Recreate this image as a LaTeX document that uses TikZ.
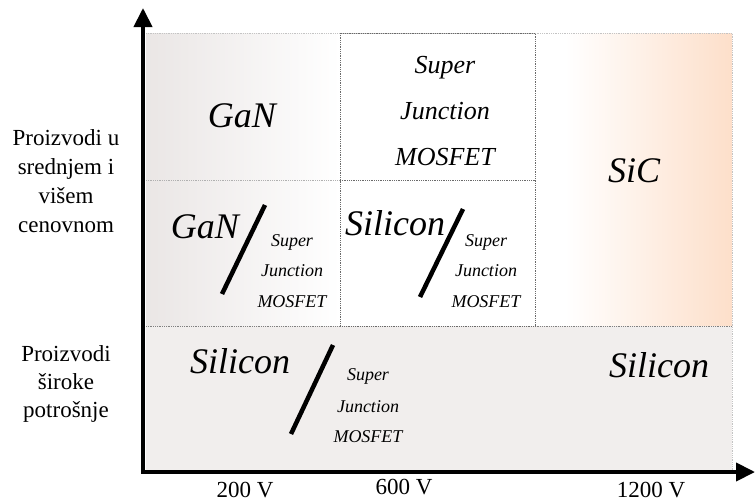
\documentclass[tikz,border=0pt]{standalone}
\usepackage{fontspec}
\setmainfont{LiberationSerif}[Extension=.ttf, UprightFont=*-Regular, ItalicFont=*-Italic, BoldFont=*-Bold, BoldItalicFont=*-BoldItalic]
\usetikzlibrary{arrows.meta}
\definecolor{lgray}{HTML}{EAE6E5}
\definecolor{band}{HTML}{F1EEED}
\definecolor{peach}{HTML}{FDDFCA}
\definecolor{dotdark}{HTML}{6A6A6A}
\definecolor{dotlight}{HTML}{C4C4C4}
\begin{document}
\begin{tikzpicture}[x=1pt,y=-1pt,
  big/.style={font=\fontsize{36}{36}\selectfont\itshape, inner sep=0pt, anchor=base},
  mid/.style={font=\fontsize{26}{26}\selectfont\itshape, inner sep=0pt, anchor=base},
  small/.style={font=\fontsize{18}{18}\selectfont\itshape, inner sep=0pt, anchor=base},
  side/.style={font=\fontsize{23}{23}\selectfont, inner sep=0pt, anchor=base},
  slash/.style={line width=4.5pt},
  axisline/.style={line width=4pt, line cap=rect, -{Triangle[length=19pt,width=18pt]}},
  griddot/.style={densely dotted, line width=0.8pt}]
\useasboundingbox (0,0) rectangle (755,501);

% background areas
\shade[left color=lgray, right color=white] (146,33) rectangle (340,326);
\shade[left color=white, right color=peach] (565,33) rectangle (732,326);
\fill[band] (146,326) rectangle (732,471);

% grid lines
\draw[griddot, dotlight] (146,33) -- (732,33) -- (732,471);
\draw[griddot, dotlight!90!black] (146,180) -- (340,180);
\draw[griddot, gray] (146,326) -- (732,326);
\draw[griddot, dotdark] (340,33) rectangle (535,326);
\draw[griddot, dotdark] (340,180) -- (535,180);

% axes
\coordinate (o) at (143,472);
\coordinate (ytip) at (143,8);
\coordinate (xtip) at (755,472);
\draw[axisline] (o) -- (ytip);
\draw[axisline] (o) -- (xtip);

% top-left cell
\node[big] (gan1) at (242,127) {GaN};

% top-middle cell
\node[mid] (sj1a) at (445,73) {Super};
\node[mid] (sj1b) at (445,119) {Junction};
\node[mid] (sj1c) at (445,165) {MOSFET};

% right column
\node[big] (sic) at (634,182) {SiC};

% middle-left cell
\node[big] (gan2) at (205,238) {GaN};
\coordinate (s1a) at (265,205);
\coordinate (s1b) at (222,294);
\draw[slash] (s1a) -- (s1b);
\node[small] (sj2a) at (292,246) {Super};
\node[small] (sj2b) at (292,276) {Junction};
\node[small] (sj2c) at (292,307) {MOSFET};

% middle-middle cell
\node[big] (si1) at (395,235) {Silicon};
\coordinate (s2a) at (463,209);
\coordinate (s2b) at (420,297);
\draw[slash] (s2a) -- (s2b);
\node[small] (sj3a) at (486,246) {Super};
\node[small] (sj3b) at (486,276) {Junction};
\node[small] (sj3c) at (486,307) {MOSFET};

% bottom band
\node[big] (si2) at (240,373) {Silicon};
\coordinate (s3a) at (333,345);
\coordinate (s3b) at (291,434);
\draw[slash] (s3a) -- (s3b);
\node[small] (sj4a) at (368,380) {Super};
\node[small] (sj4b) at (368,412) {Junction};
\node[small] (sj4c) at (368,442) {MOSFET};
\node[big] (si3) at (659,377) {Silicon};

% side labels
\node[side] (l1) at (66,145) {Proizvodi u};
\node[side] (l2) at (66,174) {srednjem i};
\node[side] (l3) at (66,203) {višem};
\node[side] (l4) at (66,232) {cenovnom};
\node[side] (l5) at (66,361) {Proizvodi};
\node[side] (l6) at (66,389) {široke};
\node[side] (l7) at (66,417) {potrošnje};

% axis labels
\node[side] (v200) at (245,497) {200 V};
\node[side] (v600) at (404,494) {600 V};
\node[side] (v1200) at (651,497) {1200 V};
\end{tikzpicture}
\end{document}
